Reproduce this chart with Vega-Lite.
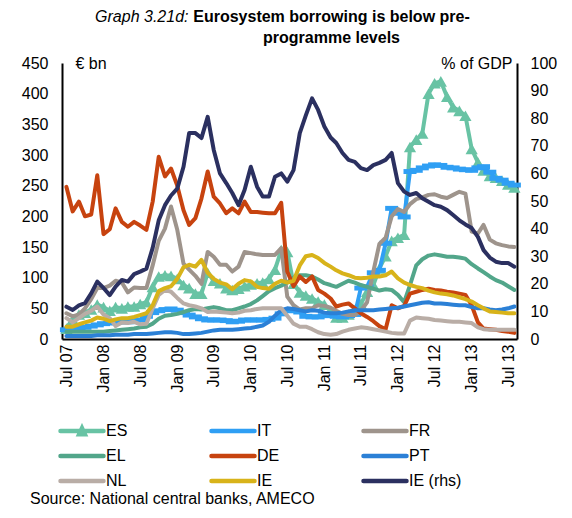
{
  "$schema": "https://vega.github.io/schema/vega-lite/v6.json",
  "width": 455,
  "height": 276,
  "autosize": {"type": "none"},
  "padding": {"left": 62, "top": 63, "right": 55, "bottom": 179},
  "background": "white",
  "config": {
    "font": "Liberation Sans",
    "view": {"stroke": null},
    "axis": {"grid": false, "ticks": false, "domainColor": "black", "domainWidth": 2, "labelColor": "black", "labelFontSize": 16, "labelFont": "Liberation Sans", "titleColor": "black", "titleFontWeight": "normal", "titleFontSize": 16, "titleFont": "Liberation Sans", "labelOverlap": false}
  },
  "title": {
    "text": ["Eurosystem borrowing is below pre-", "programme levels"],
    "fontSize": 16, "fontWeight": "bold", "color": "black", "font": "Liberation Sans",
    "anchor": "middle", "frame": "group", "dx": 42, "lineHeight": 21, "offset": -38
  },
  "data": {"values": [
    {"d":"2007-07-01","ES":17,"IT":15,"FR":42,"EL":12,"DE":248,"PT":5,"NL":34,"IE":20,"IE (rhs)":11.7},
    {"d":"2007-08-01","ES":32,"IT":16,"FR":37,"EL":12,"DE":208,"PT":5,"NL":27,"IE":20,"IE (rhs)":10.5},
    {"d":"2007-09-01","ES":40,"IT":17,"FR":40,"EL":12,"DE":224,"PT":5,"NL":34,"IE":24,"IE (rhs)":12.2},
    {"d":"2007-10-01","ES":43,"IT":19,"FR":50,"EL":12,"DE":200,"PT":5,"NL":41,"IE":27,"IE (rhs)":13},
    {"d":"2007-11-01","ES":48,"IT":21,"FR":65,"EL":12,"DE":203,"PT":5,"NL":46,"IE":30,"IE (rhs)":16.5},
    {"d":"2007-12-01","ES":56,"IT":23,"FR":83,"EL":12,"DE":267,"PT":6,"NL":53,"IE":35,"IE (rhs)":20.8},
    {"d":"2008-01-01","ES":52,"IT":25,"FR":83,"EL":12,"DE":171,"PT":6,"NL":40,"IE":33,"IE (rhs)":18.5},
    {"d":"2008-02-01","ES":46,"IT":26,"FR":87,"EL":13,"DE":179,"PT":6,"NL":34,"IE":29,"IE (rhs)":15.9},
    {"d":"2008-03-01","ES":52,"IT":27,"FR":95,"EL":14,"DE":213,"PT":7,"NL":21,"IE":32,"IE (rhs)":19},
    {"d":"2008-04-01","ES":50,"IT":28,"FR":92,"EL":15,"DE":191,"PT":7,"NL":27,"IE":34,"IE (rhs)":21.4},
    {"d":"2008-05-01","ES":53,"IT":28,"FR":76,"EL":16,"DE":183,"PT":7,"NL":26,"IE":34,"IE (rhs)":20.8},
    {"d":"2008-06-01","ES":53,"IT":30,"FR":84,"EL":17,"DE":191,"PT":8,"NL":28,"IE":36,"IE (rhs)":23.5},
    {"d":"2008-07-01","ES":57,"IT":31,"FR":83,"EL":19,"DE":185,"PT":8,"NL":24,"IE":39,"IE (rhs)":24.4},
    {"d":"2008-08-01","ES":60,"IT":37,"FR":83,"EL":20,"DE":178,"PT":8,"NL":25,"IE":42,"IE (rhs)":25.5},
    {"d":"2008-09-01","ES":85,"IT":43,"FR":120,"EL":25,"DE":224,"PT":9,"NL":50,"IE":55,"IE (rhs)":33},
    {"d":"2008-10-01","ES":102,"IT":46,"FR":160,"EL":33,"DE":297,"PT":10,"NL":72,"IE":78,"IE (rhs)":43},
    {"d":"2008-11-01","ES":104,"IT":48,"FR":180,"EL":38,"DE":265,"PT":11,"NL":80,"IE":83,"IE (rhs)":48.5},
    {"d":"2008-12-01","ES":103,"IT":49,"FR":216,"EL":39,"DE":278,"PT":11,"NL":77,"IE":86,"IE (rhs)":52},
    {"d":"2009-01-01","ES":98,"IT":47,"FR":178,"EL":41,"DE":250,"PT":10,"NL":67,"IE":98,"IE (rhs)":54.5},
    {"d":"2009-02-01","ES":88,"IT":43,"FR":123,"EL":44,"DE":210,"PT":8,"NL":58,"IE":117,"IE (rhs)":62.4},
    {"d":"2009-03-01","ES":83,"IT":39,"FR":113,"EL":47,"DE":186,"PT":8,"NL":55,"IE":121,"IE (rhs)":74.6},
    {"d":"2009-04-01","ES":74,"IT":36,"FR":103,"EL":49,"DE":197,"PT":9,"NL":53,"IE":118,"IE (rhs)":74.6},
    {"d":"2009-05-01","ES":74,"IT":33,"FR":90,"EL":48,"DE":229,"PT":10,"NL":50,"IE":129,"IE (rhs)":72.8},
    {"d":"2009-06-01","ES":108,"IT":31,"FR":142,"EL":50,"DE":273,"PT":12,"NL":44,"IE":108,"IE (rhs)":80.5},
    {"d":"2009-07-01","ES":95,"IT":31,"FR":134,"EL":52,"DE":232,"PT":14,"NL":45,"IE":98,"IE (rhs)":68.5},
    {"d":"2009-08-01","ES":91,"IT":31,"FR":121,"EL":50,"DE":221,"PT":15,"NL":44,"IE":92,"IE (rhs)":60},
    {"d":"2009-09-01","ES":83,"IT":30,"FR":121,"EL":47,"DE":205,"PT":15,"NL":43,"IE":89,"IE (rhs)":56.5},
    {"d":"2009-10-01","ES":80,"IT":28,"FR":110,"EL":47,"DE":213,"PT":15,"NL":42,"IE":81,"IE (rhs)":52.9},
    {"d":"2009-11-01","ES":82,"IT":29,"FR":118,"EL":50,"DE":205,"PT":16,"NL":43,"IE":90,"IE (rhs)":48.5},
    {"d":"2009-12-01","ES":86,"IT":31,"FR":142,"EL":53,"DE":224,"PT":17,"NL":46,"IE":96,"IE (rhs)":54},
    {"d":"2010-01-01","ES":89,"IT":31,"FR":140,"EL":57,"DE":207,"PT":18,"NL":47,"IE":94,"IE (rhs)":62.4},
    {"d":"2010-02-01","ES":91,"IT":31,"FR":138,"EL":63,"DE":207,"PT":20,"NL":49,"IE":85,"IE (rhs)":55.2},
    {"d":"2010-03-01","ES":92,"IT":31,"FR":137,"EL":70,"DE":206,"PT":22,"NL":50,"IE":83,"IE (rhs)":51.6},
    {"d":"2010-04-01","ES":98,"IT":32,"FR":137,"EL":78,"DE":205,"PT":28,"NL":50,"IE":82,"IE (rhs)":51.6},
    {"d":"2010-05-01","ES":113,"IT":34,"FR":137,"EL":83,"DE":205,"PT":38,"NL":50,"IE":90,"IE (rhs)":58.8},
    {"d":"2010-06-01","ES":145,"IT":41,"FR":148,"EL":87,"DE":222,"PT":47,"NL":50,"IE":95,"IE (rhs)":60},
    {"d":"2010-07-01","ES":142,"IT":46,"FR":69,"EL":92,"DE":110,"PT":50,"NL":38,"IE":92,"IE (rhs)":57},
    {"d":"2010-08-01","ES":90,"IT":47,"FR":55,"EL":100,"DE":86,"PT":49,"NL":25,"IE":95,"IE (rhs)":61.2},
    {"d":"2010-09-01","ES":76,"IT":44,"FR":48,"EL":104,"DE":102,"PT":47,"NL":20,"IE":120,"IE (rhs)":74.6},
    {"d":"2010-10-01","ES":71,"IT":37,"FR":50,"EL":104,"DE":93,"PT":45,"NL":20,"IE":135,"IE (rhs)":81},
    {"d":"2010-11-01","ES":66,"IT":36,"FR":50,"EL":102,"DE":102,"PT":47,"NL":16,"IE":137,"IE (rhs)":87.2},
    {"d":"2010-12-01","ES":61,"IT":36,"FR":55,"EL":97,"DE":80,"PT":46,"NL":11,"IE":132,"IE (rhs)":83},
    {"d":"2011-01-01","ES":56,"IT":38,"FR":54,"EL":91,"DE":74,"PT":43,"NL":8,"IE":124,"IE (rhs)":77},
    {"d":"2011-02-01","ES":45,"IT":39,"FR":51,"EL":88,"DE":66,"PT":42,"NL":7,"IE":118,"IE (rhs)":73},
    {"d":"2011-03-01","ES":35,"IT":37,"FR":46,"EL":85,"DE":53,"PT":42,"NL":8,"IE":112,"IE (rhs)":71},
    {"d":"2011-04-01","ES":35,"IT":36,"FR":41,"EL":90,"DE":56,"PT":43,"NL":12,"IE":107,"IE (rhs)":67.4},
    {"d":"2011-05-01","ES":40,"IT":38,"FR":39,"EL":95,"DE":58,"PT":45,"NL":15,"IE":104,"IE (rhs)":64.9},
    {"d":"2011-06-01","ES":47,"IT":40,"FR":39,"EL":92,"DE":50,"PT":47,"NL":17,"IE":100,"IE (rhs)":64.2},
    {"d":"2011-07-01","ES":57,"IT":83,"FR":46,"EL":88,"DE":42,"PT":47,"NL":19,"IE":99,"IE (rhs)":61.9},
    {"d":"2011-08-01","ES":77,"IT":85,"FR":60,"EL":85,"DE":36,"PT":47,"NL":18,"IE":100,"IE (rhs)":61.2},
    {"d":"2011-09-01","ES":88,"IT":108,"FR":110,"EL":82,"DE":29,"PT":47,"NL":16,"IE":102,"IE (rhs)":63},
    {"d":"2011-10-01","ES":115,"IT":112,"FR":155,"EL":79,"DE":21,"PT":48,"NL":14,"IE":102,"IE (rhs)":63.8},
    {"d":"2011-11-01","ES":135,"IT":156,"FR":165,"EL":81,"DE":16,"PT":49,"NL":12,"IE":104,"IE (rhs)":64.9},
    {"d":"2011-12-01","ES":160,"IT":213,"FR":200,"EL":80,"DE":55,"PT":50,"NL":10,"IE":110,"IE (rhs)":67.4},
    {"d":"2012-01-01","ES":165,"IT":205,"FR":212,"EL":72,"DE":50,"PT":51,"NL":9,"IE":99,"IE (rhs)":56.5},
    {"d":"2012-02-01","ES":170,"IT":199,"FR":207,"EL":60,"DE":54,"PT":53,"NL":9,"IE":92,"IE (rhs)":53.4},
    {"d":"2012-03-01","ES":313,"IT":273,"FR":220,"EL":88,"DE":74,"PT":55,"NL":30,"IE":88,"IE (rhs)":52.2},
    {"d":"2012-04-01","ES":325,"IT":275,"FR":228,"EL":120,"DE":77,"PT":57,"NL":35,"IE":85,"IE (rhs)":52.9},
    {"d":"2012-05-01","ES":335,"IT":279,"FR":231,"EL":130,"DE":80,"PT":59,"NL":34,"IE":83,"IE (rhs)":51},
    {"d":"2012-06-01","ES":400,"IT":282,"FR":235,"EL":136,"DE":82,"PT":60,"NL":33,"IE":79,"IE (rhs)":49.7},
    {"d":"2012-07-01","ES":417,"IT":284,"FR":236,"EL":138,"DE":80,"PT":58,"NL":31,"IE":76,"IE (rhs)":48.5},
    {"d":"2012-08-01","ES":420,"IT":283,"FR":232,"EL":136,"DE":79,"PT":58,"NL":30,"IE":74,"IE (rhs)":47.9},
    {"d":"2012-09-01","ES":395,"IT":280,"FR":230,"EL":134,"DE":77,"PT":57,"NL":29,"IE":73,"IE (rhs)":46.7},
    {"d":"2012-10-01","ES":378,"IT":279,"FR":235,"EL":134,"DE":76,"PT":56,"NL":28,"IE":71,"IE (rhs)":44.9},
    {"d":"2012-11-01","ES":372,"IT":277,"FR":240,"EL":133,"DE":74,"PT":55,"NL":28,"IE":68,"IE (rhs)":43},
    {"d":"2012-12-01","ES":364,"IT":276,"FR":237,"EL":131,"DE":72,"PT":55,"NL":27,"IE":65,"IE (rhs)":41.5},
    {"d":"2013-01-01","ES":310,"IT":275,"FR":175,"EL":122,"DE":55,"PT":52,"NL":26,"IE":61,"IE (rhs)":40.2},
    {"d":"2013-02-01","ES":288,"IT":279,"FR":172,"EL":115,"DE":27,"PT":50,"NL":19,"IE":55,"IE (rhs)":37},
    {"d":"2013-03-01","ES":275,"IT":281,"FR":186,"EL":109,"DE":17,"PT":50,"NL":16,"IE":50,"IE (rhs)":32.2},
    {"d":"2013-04-01","ES":266,"IT":272,"FR":162,"EL":102,"DE":16,"PT":48,"NL":15,"IE":45,"IE (rhs)":29.5},
    {"d":"2013-05-01","ES":263,"IT":262,"FR":156,"EL":96,"DE":15,"PT":47,"NL":15,"IE":44,"IE (rhs)":28},
    {"d":"2013-06-01","ES":258,"IT":259,"FR":153,"EL":92,"DE":13,"PT":48,"NL":15,"IE":43,"IE (rhs)":27.5},
    {"d":"2013-07-01","ES":252,"IT":254,"FR":151,"EL":86,"DE":12,"PT":50,"NL":15,"IE":42,"IE (rhs)":27.5},
    {"d":"2013-08-01","ES":247,"IT":251,"FR":150,"EL":80,"DE":10,"PT":53,"NL":15,"IE":42,"IE (rhs)":26.2}
  ]},
  "transform": [{"fold": ["ES", "IT", "FR", "EL", "DE", "PT", "NL", "IE", "IE (rhs)"], "as": ["series", "value"]}],
  "encoding": {
    "x": {
      "field": "d", "type": "temporal",
      "scale": {"type": "utc", "domain": [{"year": 2007, "month": 6, "date": 9, "utc": true}, {"year": 2013, "month": 8, "date": 14, "utc": true}]},
      "axis": {
        "values": [
          {"year": 2007, "month": 7, "date": 1, "utc": true}, {"year": 2008, "month": 1, "date": 1, "utc": true},
          {"year": 2008, "month": 7, "date": 1, "utc": true}, {"year": 2009, "month": 1, "date": 1, "utc": true},
          {"year": 2009, "month": 7, "date": 1, "utc": true}, {"year": 2010, "month": 1, "date": 1, "utc": true},
          {"year": 2010, "month": 7, "date": 1, "utc": true}, {"year": 2011, "month": 1, "date": 1, "utc": true},
          {"year": 2011, "month": 7, "date": 1, "utc": true}, {"year": 2012, "month": 1, "date": 1, "utc": true},
          {"year": 2012, "month": 7, "date": 1, "utc": true}, {"year": 2013, "month": 1, "date": 1, "utc": true},
          {"year": 2013, "month": 7, "date": 1, "utc": true}
        ],
        "format": "%b %y", "labelAngle": -90, "labelAlign": "right", "labelBaseline": "middle", "labelPadding": 5,
        "labelFlush": false, "labelOverlap": false,
        "title": "Graph 3.21d:", "titleX": 126, "titleY": -318, "titleAlign": "right", "titleBaseline": "alphabetic",
        "titleAngle": 0, "titleFontStyle": "italic", "titleFontWeight": "normal", "titleFontSize": 16
      }
    }
  },
  "layer": [
    {
      "encoding": {
        "y": {"field": "value", "type": "quantitative", "scale": {"domain": [0, 450], "nice": false},
          "axis": {"orient": "left", "values": [0, 50, 100, 150, 200, 250, 300, 350, 400, 450], "labelPadding": 14, "labelOverlap": false,
            "title": "€ bn", "titleAngle": 0, "titleX": 13, "titleY": 0, "titleAlign": "left", "titleBaseline": "middle"}}
      },
      "layer": [
        {
          "transform": [{"filter": "datum.series === 'ES'"}],
          "mark": {"type": "line", "strokeWidth": 4, "strokeCap": "round", "strokeJoin": "round"},
          "encoding": {
            "color": {"field": "series", "type": "nominal",
              "scale": {"domain": ["ES", "IT", "FR", "EL", "DE", "PT", "NL", "IE", "IE (rhs)"],
                "range": ["#68C3A4", "#2F9FF4", "#9E948C", "#52A68A", "#C7430F", "#2B80D6", "#B9ADA6", "#D8B31A", "#2B3060"]},
              "legend": {
                "orient": "none", "legendX": -32, "legendY": 360, "direction": "horizontal", "columns": 3,
                "columnPadding": 53, "rowPadding": 9, "clipHeight": 16, "gridAlign": "each", "padding": 0,
                "symbolType": "stroke", "symbolSize": 1850, "symbolStrokeWidth": 4.5, "symbolOffset": 28,
                "labelOffset": 0, "labelFontSize": 16, "labelColor": "black", "labelFont": "Liberation Sans",
                "title": "Source: National central banks, AMECO", "titleOrient": "bottom", "titleAnchor": "start",
                "titleFontSize": 16, "titleFontWeight": "normal", "titleColor": "black", "titleFont": "Liberation Sans",
                "titleLimit": 1000, "titlePadding": 2,
                "encode": {"symbols": {"update": {
                  "shape": [{"test": "datum.value === 'ES'", "value": "M-1,0H1M-0.13,0.15L0,-0.13L0.13,0.15Z"}, {"value": "stroke"}],
                  "fill": [{"test": "datum.value === 'ES'", "value": "#68C3A4"}, {"value": "transparent"}],
                  "strokeCap": {"value": "round"}
                }}}
              }
            }
          }
        },
        {
          "transform": [{"filter": "datum.series === 'ES'"}],
          "mark": {"type": "point", "shape": "triangle-up", "filled": true, "size": 150, "color": "#68C3A4", "opacity": 1, "strokeWidth": 0}
        },
        {
          "transform": [{"filter": "datum.series === 'IT'"}],
          "mark": {"type": "line", "strokeWidth": 4, "strokeCap": "round", "strokeJoin": "round"},
          "encoding": {
            "color": {"field": "series", "type": "nominal",
              "scale": {"domain": ["ES", "IT", "FR", "EL", "DE", "PT", "NL", "IE", "IE (rhs)"],
                "range": ["#68C3A4", "#2F9FF4", "#9E948C", "#52A68A", "#C7430F", "#2B80D6", "#B9ADA6", "#D8B31A", "#2B3060"]}}
          }
        },
        {
          "transform": [{"filter": "datum.series === 'IT'"}],
          "mark": {"type": "point", "shape": "M-1,-0.38H1V0.38H-1Z", "filled": true, "size": 169, "color": "#2F9FF4", "opacity": 1, "strokeWidth": 0}
        },
        {
          "transform": [{"filter": "indexof(['FR','EL','DE','PT','NL','IE'], datum.series) >= 0"}],
          "mark": {"type": "line", "strokeWidth": 4, "strokeCap": "round", "strokeJoin": "round"},
          "encoding": {
            "color": {"field": "series", "type": "nominal",
              "scale": {"domain": ["ES", "IT", "FR", "EL", "DE", "PT", "NL", "IE", "IE (rhs)"],
                "range": ["#68C3A4", "#2F9FF4", "#9E948C", "#52A68A", "#C7430F", "#2B80D6", "#B9ADA6", "#D8B31A", "#2B3060"]}}
          }
        }
      ]
    },
    {
      "transform": [{"filter": "datum.series === 'IE (rhs)'"}],
      "mark": {"type": "line", "strokeWidth": 4, "strokeCap": "round", "strokeJoin": "round"},
      "encoding": {
        "y": {"field": "value", "type": "quantitative", "scale": {"domain": [0, 100], "nice": false},
          "axis": {"orient": "right", "values": [0, 10, 20, 30, 40, 50, 60, 70, 80, 90, 100], "labelPadding": 13, "labelOverlap": false,
            "title": "% of GDP", "titleAngle": 0, "titleX": -5, "titleY": 0, "titleAlign": "right", "titleBaseline": "middle"}},
        "color": {"field": "series", "type": "nominal",
          "scale": {"domain": ["ES", "IT", "FR", "EL", "DE", "PT", "NL", "IE", "IE (rhs)"],
            "range": ["#68C3A4", "#2F9FF4", "#9E948C", "#52A68A", "#C7430F", "#2B80D6", "#B9ADA6", "#D8B31A", "#2B3060"]}}
      }
    }
  ],
  "resolve": {"scale": {"y": "independent"}, "axis": {"y": "independent"}}
}
